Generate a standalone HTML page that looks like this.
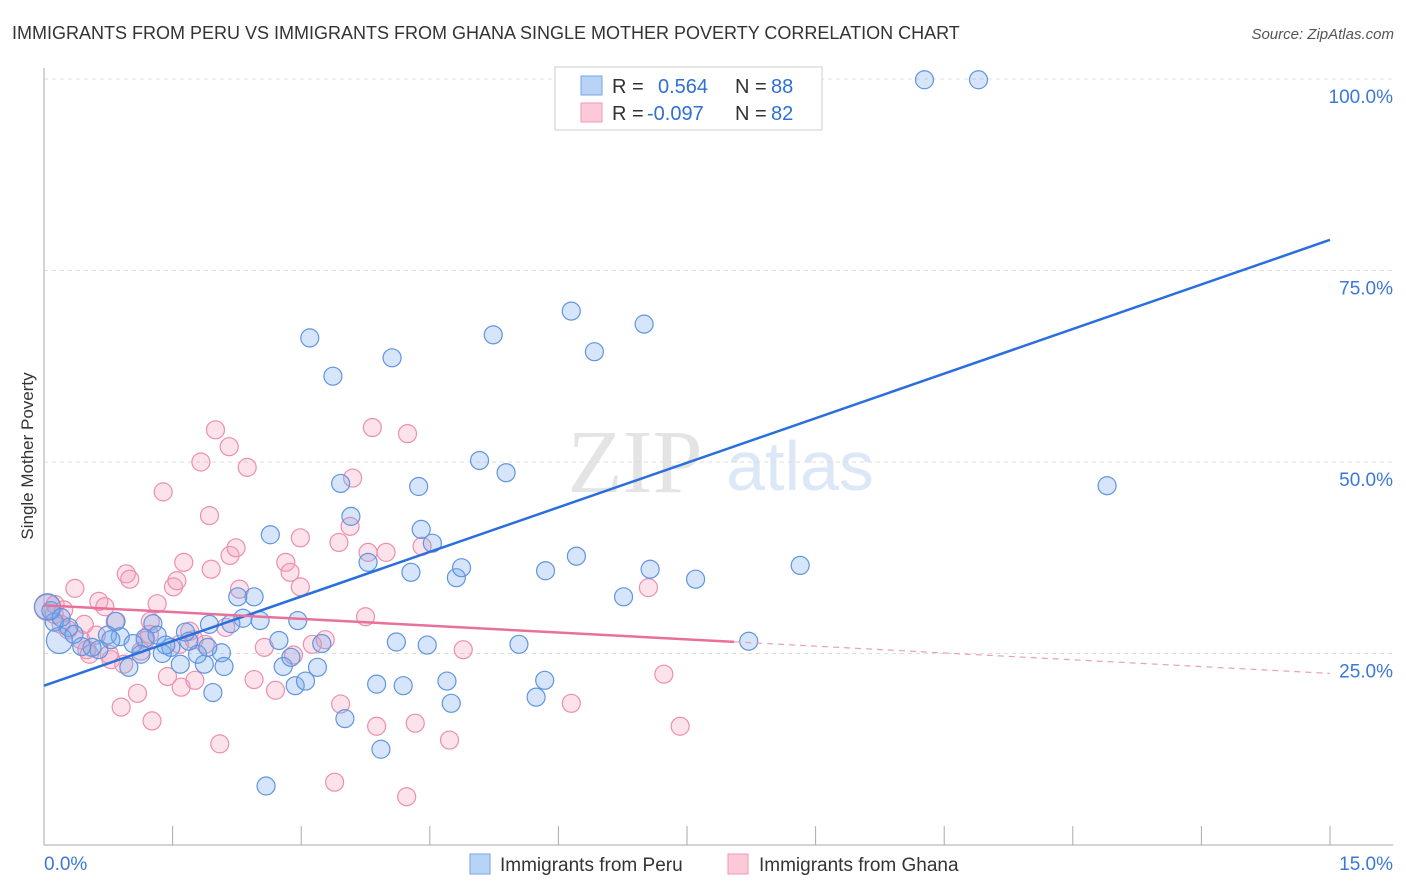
<!DOCTYPE html>
<html><head><meta charset="utf-8"><style>
body{margin:0;background:#fff;font-family:"Liberation Sans",sans-serif}
svg{display:block}
</style></head><body>
<svg id="chart" width="1406" height="892">
<text x="12" y="39" font-size="18" fill="#333">IMMIGRANTS FROM PERU VS IMMIGRANTS FROM GHANA SINGLE MOTHER POVERTY CORRELATION CHART</text>
<text x="1394" y="39" font-size="15" fill="#555" font-style="italic" text-anchor="end">Source: ZipAtlas.com</text>
<text x="33" y="456" font-size="17" fill="#333" text-anchor="middle" transform="rotate(-90 33 456)">Single Mother Poverty</text>
<g><text x="635" y="492" font-size="90" fill="#e4e4e4" font-family="Liberation Serif,serif" text-anchor="middle">ZIP</text><text x="800" y="490" font-size="70" fill="#dce8f8" text-anchor="middle">atlas</text></g>
<g id="grid"></g><g id="axes"></g><g id="pink"></g><g id="blue"></g><g id="lines"></g>
<g>
<rect x="555" y="67" width="267" height="63" fill="#fff" stroke="#ccc"/>
<rect x="581" y="76" width="21" height="19" fill="#b8d3f5" stroke="#7aa6e6"/>
<rect x="581" y="103" width="21" height="19" fill="#fbc9d8" stroke="#ee9ab5"/>
<text x="612" y="93" font-size="20" fill="#333">R = </text><text x="658" y="93" font-size="20" fill="#2f6fd6">0.564</text>
<text x="735" y="93" font-size="20" fill="#333">N = </text><text x="771" y="93" font-size="20" fill="#2f6fd6">88</text>
<text x="612" y="120" font-size="20" fill="#333">R = </text><text x="647" y="120" font-size="20" fill="#2f6fd6">-0.097</text>
<text x="735" y="120" font-size="20" fill="#333">N = </text><text x="771" y="120" font-size="20" fill="#2f6fd6">82</text>
</g>
<g>
<rect x="470" y="854" width="20" height="20" fill="#b8d3f5" stroke="#7aa6e6"/>
<text x="500" y="871" font-size="19" fill="#333">Immigrants from Peru</text>
<rect x="728" y="854" width="20" height="20" fill="#fbc9d8" stroke="#ee9ab5"/>
<text x="759" y="871" font-size="19" fill="#333">Immigrants from Ghana</text>
</g>
</svg>
<script>
const blueX=[6.90,10.27,10.90,3.10,3.37,4.06,5.24,6.15,6.42,7.00,5.08,5.39,3.46,4.37,3.58,2.64,4.40,4.53,3.78,4.28,4.81,4.87,5.85,6.21,7.07,7.60,8.82,12.40,6.76,8.22,5.54,4.47,4.11,5.84,5.74,4.70,4.75,3.88,4.19,3.51,3.93,2.59,2.93,3.05,2.79,2.88,3.19,3.24,2.74,2.96,2.52,2.32,2.45,2.26,2.18,2.07,2.10,1.97,1.87,1.79,1.91,1.69,1.65,1.59,1.48,1.38,1.27,1.32,1.18,1.13,0.99,0.89,0.84,0.74,0.64,0.56,0.44,0.29,0.18,0.12,0.08,0.04,0.20,0.35,0.78,1.04,1.42,1.93];
const blueY=[99.9,99.9,99.9,66.2,61.2,63.6,66.6,69.7,64.4,68.0,50.2,48.6,47.2,46.8,42.9,40.5,41.2,39.4,36.9,35.6,34.9,36.2,35.8,37.7,36.0,34.7,36.5,46.9,32.4,26.6,26.2,26.1,26.5,21.5,19.3,21.4,18.5,21.0,20.8,16.5,12.5,7.7,20.8,21.4,23.3,24.5,23.2,26.3,26.7,29.3,29.3,29.6,32.4,32.4,28.9,25.1,23.3,19.9,23.6,24.9,25.8,26.6,27.8,23.6,25.8,25.0,28.9,27.4,27.0,24.9,23.2,27.2,29.2,27.4,25.5,25.8,25.9,28.4,26.7,29.1,30.6,31.1,29.7,27.5,26.8,26.3,26.1,28.8];
const pinkX=[0.36,0.04,0.12,0.20,0.28,0.43,0.50,0.61,0.64,0.71,0.83,0.78,0.90,0.96,1.00,1.09,1.13,1.18,1.24,1.26,1.32,1.39,1.44,1.51,1.55,1.60,1.63,1.70,1.76,1.83,1.88,1.93,1.95,2.00,2.05,2.12,2.17,2.16,2.24,2.28,2.37,2.45,2.57,2.70,2.82,2.87,2.91,2.99,2.99,3.13,3.28,3.39,3.46,3.44,3.57,3.60,3.75,3.78,3.83,3.88,3.99,4.24,4.23,4.33,4.41,4.73,4.89,6.15,7.05,7.23,7.42,0.76,0.93,0.53,0.23,0.47,0.13,1.23,1.58,1.75];
const pinkY=[33.5,31.0,30.1,28.8,28.1,26.8,25.5,27.4,31.8,31.1,29.2,24.2,18.0,35.4,34.7,19.8,25.3,26.7,29.2,16.2,31.5,46.1,22.0,33.7,34.5,20.6,36.9,27.9,21.5,50.0,26.2,43.0,36.0,54.2,13.2,28.4,37.8,52.0,38.8,33.4,49.3,21.6,25.8,20.2,36.9,35.6,24.8,33.7,40.1,26.2,26.8,8.2,18.4,39.5,41.6,47.9,29.8,38.2,54.5,15.5,38.2,53.7,6.3,15.9,39.0,13.7,25.5,18.5,33.6,22.3,15.5,24.9,23.6,24.9,30.7,28.8,31.4,27.5,26.2,26.8];
const blueTrend=[20.8,79.0];
const pinkTrend=[31.3,22.4];
const pinkSolidEnd=8.05;
const yTicks=[25,50,75,100];
const yTickLabels=["25.0%","50.0%","75.0%","100.0%"];
const xTicks=[0,1.5,3,4.5,6,7.5,9,10.5,12,13.5,15];
const NS="http://www.w3.org/2000/svg";
const X=v=>44+v*(1330-44)/15;
const Y=v=>845-v*(845-79)/100;
function mk(p,t,a){const e=document.createElementNS(NS,t);for(const k in a)e.setAttribute(k,a[k]);document.getElementById(p).appendChild(e);return e;}
yTicks.forEach((t,i)=>{
 const l=mk('grid','line',{x1:44,x2:1393,y1:Y(t),y2:Y(t),stroke:'#ddd','stroke-dasharray':'4,4'});
 
 
 const tx=mk('grid','text',{x:1393,y:Y(t)+24,'font-size':19,fill:'#3b78d8','text-anchor':'end'});
 tx.textContent=yTickLabels[i];
 
 
});
let a=mk('axes','line',{x1:44,x2:44,y1:68,y2:845,stroke:'#aaa'});


a=mk('axes','line',{x1:44,x2:1393,y1:845,y2:845,stroke:'#aaa'});


xTicks.forEach((t,i)=>{if(i===0)return;
 const l=mk('axes','line',{x1:X(t),x2:X(t),y1:826,y2:845,stroke:'#aaa'});
 
 
});
let t0=mk('axes','text',{x:44,y:870,'font-size':19,fill:'#3b78d8'});t0.textContent='0.0%';


let t1=mk('axes','text',{x:1393,y:870,'font-size':19,fill:'#3b78d8','text-anchor':'end'});t1.textContent='15.0%';


pinkX.forEach((x,i)=>{
 const c=mk('pink','circle',{cx:X(x),cy:Y(pinkY[i]),r:i===1?13:9,fill:'rgba(245,160,190,0.3)',stroke:'#ec8fae','stroke-width':1.2});
 
 
});
blueX.forEach((x,i)=>{
 const c=mk('blue','circle',{cx:X(x),cy:Y(blueY[i]),r:(i===78||i===81)?13:9,fill:'rgba(120,170,235,0.3)',stroke:'#5f95e0','stroke-width':1.2});
 
 
});
let bl=mk('lines','line',{x1:X(0),y1:Y(blueTrend[0]),x2:X(15),y2:Y(blueTrend[1]),stroke:'#2a6fdb','stroke-width':2.5});


const pm=pinkTrend[0]+(pinkTrend[1]-pinkTrend[0])*pinkSolidEnd/15;
let pl=mk('lines','line',{x1:X(0),y1:Y(pinkTrend[0]),x2:X(pinkSolidEnd),y2:Y(pm),stroke:'#e8709a','stroke-width':2.5});


let pd=mk('lines','line',{x1:X(pinkSolidEnd),y1:Y(pm),x2:X(15),y2:Y(pinkTrend[1]),stroke:'#e8a0b8','stroke-width':1.2,'stroke-dasharray':'6,5'});


</script>
</body></html>
